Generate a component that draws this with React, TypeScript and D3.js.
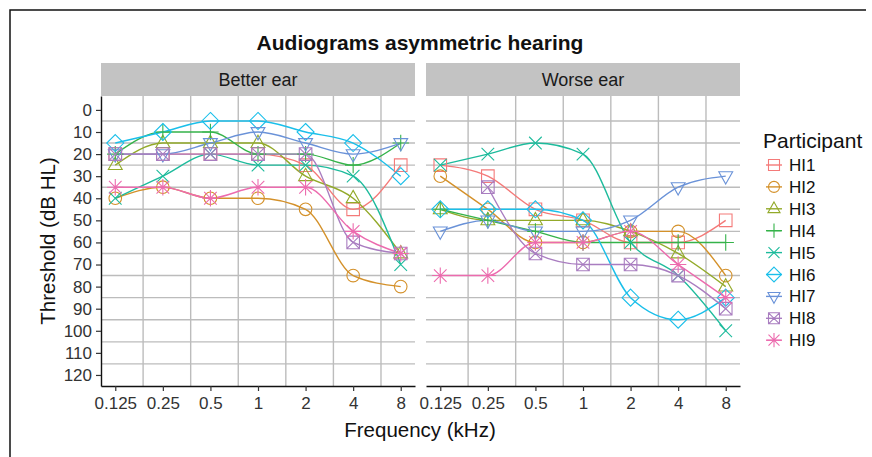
import { useEffect, useRef } from "react";
import * as d3 from "d3";

const frequencies = [0.125, 0.25, 0.5, 1, 2, 4, 8];
const frequencyLabels = ["0.125", "0.25", "0.5", "1", "2", "4", "8"];
const gridFrequencies = [0.1875, 0.375, 0.75, 1.5, 3, 6];
const thresholdTicks = [0, 10, 20, 30, 40, 50, 60, 70, 80, 90, 100, 110, 120];
const thresholdGrid = [5, 15, 25, 35, 45, 55, 65, 75, 85, 95, 105, 115];

const participants = ["HI1", "HI2", "HI3", "HI4", "HI5", "HI6", "HI7", "HI8", "HI9"];
const colors = ["#F47A79", "#D4912A", "#93AA2A", "#35B34A", "#1DBB9C", "#1ABFEA", "#6A92D8", "#A97DC0", "#EC6BAE"];
const shapes = ["square", "circle", "triUp", "plus", "cross", "diamond", "triDown", "squareX", "asterisk"];

// better ear thresholds (dB HL), one per frequency
const hi1Better = [20, 20, 20, 20, 25, 45, 25];
const hi2Better = [40, 35, 40, 40, 45, 75, 80];
const hi3Better = [25, 15, 15, 15, 30, 40, 65];
const hi4Better = [20, 10, 10, 20, 20, 25, 15];
const hi5Better = [40, 30, 20, 25, 25, 30, 70];
const hi6Better = [15, 10, 5, 5, 10, 15, 30];
const hi7Better = [20, 20, 15, 10, 15, 20, 15];
const hi8Better = [20, 20, 20, 20, 20, 60, 65];
const hi9Better = [35, 35, 40, 35, 35, 55, 65];

// worse ear
const hi1Worse = [25, 30, 45, 50, 60, 60, 50];
const hi2Worse = [30, 45, 60, 60, 55, 55, 75];
const hi3Worse = [45, 50, 50, 50, 55, 65, 80];
const hi4Worse = [45, 50, 55, 60, 60, 60, 60];
const hi5Worse = [25, 20, 15, 20, 60, 75, 100];
const hi6Worse = [45, 45, 45, 50, 85, 95, 85];
const hi7Worse = [55, 50, 55, 55, 50, 35, 30];
const hi8Worse = [null, 35, 65, 70, 70, 75, 90];
const hi9Worse = [75, 75, 60, 60, 55, 70, 85];

const betterEar = [hi1Better, hi2Better, hi3Better, hi4Better, hi5Better, hi6Better, hi7Better, hi8Better, hi9Better];
const worseEar = [hi1Worse, hi2Worse, hi3Worse, hi4Worse, hi5Worse, hi6Worse, hi7Worse, hi8Worse, hi9Worse];

const FONT = "'Liberation Sans', Arial, Helvetica, sans-serif";

function shapePath(shape: string, r: number) {
  const sq = `M${-r},${-r}h${2 * r}v${2 * r}h${-2 * r}Z`;
  const x = `M${-r},${-r}L${r},${r}M${-r},${r}L${r},${-r}`;
  const p = r * 1.3;
  const plus = `M${-p},0H${p}M0,${-p}V${p}`;
  switch (shape) {
    case "square":
      return sq;
    case "circle":
      return `M${r},0A${r},${r} 0 1,1 ${-r},0A${r},${r} 0 1,1 ${r},0Z`;
    case "triUp":
      return `M0,${-r * 1.25}L${r * 1.1},${r * 0.7}L${-r * 1.1},${r * 0.7}Z`;
    case "triDown":
      return `M0,${r * 1.25}L${r * 1.1},${-r * 0.7}L${-r * 1.1},${-r * 0.7}Z`;
    case "plus":
      return plus;
    case "cross":
      return x;
    case "diamond": {
      const d = r * 1.35;
      return `M0,${-d}L${d},0L0,${d}L${-d},0Z`;
    }
    case "squareX":
      return sq + x;
    case "asterisk":
      return plus + x;
  }
  return sq;
}

export default function App() {
  const svgRef = useRef<SVGSVGElement>(null);

  useEffect(() => {
    if (!svgRef.current) return;
    const svg = d3.select(svgRef.current);
    svg.selectAll("*").remove();

    const top = 96;
    const bottom = 386;
    const y = d3.scaleLinear().domain([-6.3, 125]).range([top, bottom]);

    // outer frame
    svg.append("path").attr("d", "M10,457V10H866").attr("fill", "none").attr("stroke", "#111").attr("stroke-width", 1.5);

    svg
      .append("text")
      .attr("x", 420)
      .attr("y", 50)
      .attr("text-anchor", "middle")
      .attr("font-family", FONT)
      .attr("font-weight", "bold")
      .attr("font-size", 21)
      .attr("fill", "#111")
      .text("Audiograms asymmetric hearing");

    const panels = [
      { label: "Better ear", range: [101, 415], data: betterEar },
      { label: "Worse ear", range: [426, 740], data: worseEar },
    ];

    panels.forEach((panel, pi) => {
      const x = d3
        .scaleLog()
        .base(2)
        .domain([0.125 * Math.pow(2, -0.3), 8 * Math.pow(2, 0.3)])
        .range(panel.range);

      const g = svg.append("g");

      // strip
      g.append("rect")
        .attr("x", panel.range[0])
        .attr("y", 63)
        .attr("width", panel.range[1] - panel.range[0])
        .attr("height", top - 63)
        .attr("fill", "#c3c3c3");
      g.append("text")
        .attr("x", (panel.range[0] + panel.range[1]) / 2)
        .attr("y", 86)
        .attr("text-anchor", "middle")
        .attr("font-family", FONT)
        .attr("font-size", 18)
        .attr("fill", "#1a1a1a")
        .text(panel.label);

      // grid
      g.selectAll(".hgrid")
        .data(thresholdGrid)
        .join("line")
        .attr("x1", panel.range[0])
        .attr("x2", panel.range[1])
        .attr("y1", (d) => y(d))
        .attr("y2", (d) => y(d))
        .attr("stroke", "#bcbcbc")
        .attr("stroke-width", 1.4);
      g.selectAll(".vgrid")
        .data(gridFrequencies)
        .join("line")
        .attr("x1", (d) => x(d))
        .attr("x2", (d) => x(d))
        .attr("y1", top)
        .attr("y2", bottom)
        .attr("stroke", "#bcbcbc")
        .attr("stroke-width", 1.4);

      // smoothed lines
      panel.data.forEach((vals, k) => {
        const offset = vals.findIndex((v) => v != null);
        const l = d3
          .line<number>()
          .x((_, i) => x(frequencies[i + offset]))
          .y((d) => y(d))
          .curve(d3.curveMonotoneX);
        g.append("path")
          .attr("d", l(vals.slice(offset) as number[]))
          .attr("fill", "none")
          .attr("stroke", colors[k])
          .attr("stroke-width", 1.4);
      });

      panel.data.forEach((vals, k) => {
        g.selectAll(`.pt${k}`)
          .data(vals.map((v, i) => ({ v, f: frequencies[i] })).filter((d) => d.v != null))
          .join("path")
          .attr("transform", (d) => `translate(${x(d.f)},${y(d.v as number)})`)
          .attr("d", shapePath(shapes[k], 6.3))
          .attr("fill", "none")
          .attr("stroke", colors[k])
          .attr("stroke-width", 1.1);
      });

      // x axis
      const xAxis = d3
        .axisBottom(x)
        .tickValues(frequencies)
        .tickFormat((_, i) => frequencyLabels[i])
        .tickSize(5)
        .tickSizeOuter(0)
        .tickPadding(6);
      const xg = svg.append("g").attr("transform", `translate(0,${bottom})`).call(xAxis);
      xg.select(".domain").attr("stroke", "#111").attr("stroke-width", 1.4);
      xg.selectAll(".tick line").attr("stroke", "#333").attr("stroke-width", 1.2);
      xg.selectAll("text").attr("font-family", FONT).attr("font-size", 17).attr("fill", "#333");

      if (pi === 0) {
        const yAxis = d3
          .axisLeft(y)
          .tickValues(thresholdTicks)
          .tickSize(5)
          .tickSizeOuter(0)
          .tickPadding(4);
        const yg = svg.append("g").attr("transform", `translate(${panel.range[0]},0)`).call(yAxis);
        yg.select(".domain").attr("stroke", "#111").attr("stroke-width", 1.4);
        yg.selectAll(".tick line").attr("stroke", "#333").attr("stroke-width", 1.2);
        yg.selectAll("text").attr("font-family", FONT).attr("font-size", 17).attr("fill", "#333");
      }
    });

    // axis titles
    svg
      .append("text")
      .attr("x", 420)
      .attr("y", 437)
      .attr("text-anchor", "middle")
      .attr("font-family", FONT)
      .attr("font-size", 20.5)
      .attr("fill", "#111")
      .text("Frequency (kHz)");
    svg
      .append("text")
      .attr("transform", `translate(55,${(top + bottom) / 2}) rotate(-90)`)
      .attr("text-anchor", "middle")
      .attr("font-family", FONT)
      .attr("font-size", 20.5)
      .attr("fill", "#111")
      .text("Threshold (dB HL)");

    // legend
    const legend = svg.append("g");
    legend
      .append("text")
      .attr("x", 763)
      .attr("y", 148)
      .attr("font-family", FONT)
      .attr("font-size", 21)
      .attr("fill", "#111")
      .text("Participant");
    participants.forEach((p, k) => {
      const cy = 165 + k * 21.9;
      const item = legend.append("g").attr("transform", `translate(774,${cy})`);
      item.append("line").attr("x1", -8).attr("x2", 8).attr("stroke", colors[k]).attr("stroke-width", 1.4);
      item
        .append("path")
        .attr("d", shapePath(shapes[k], 5.5))
        .attr("fill", "none")
        .attr("stroke", colors[k])
        .attr("stroke-width", 1.1);
      item
        .append("text")
        .attr("x", 15)
        .attr("y", 6)
        .attr("font-family", FONT)
        .attr("font-size", 17)
        .attr("fill", "#111")
        .text(p);
    });
  }, []);

  return (
    <svg
      ref={svgRef}
      width={872}
      height={457}
      style={{ position: "absolute", left: 0, top: 0, background: "#fff" }}
    ></svg>
  );
}
